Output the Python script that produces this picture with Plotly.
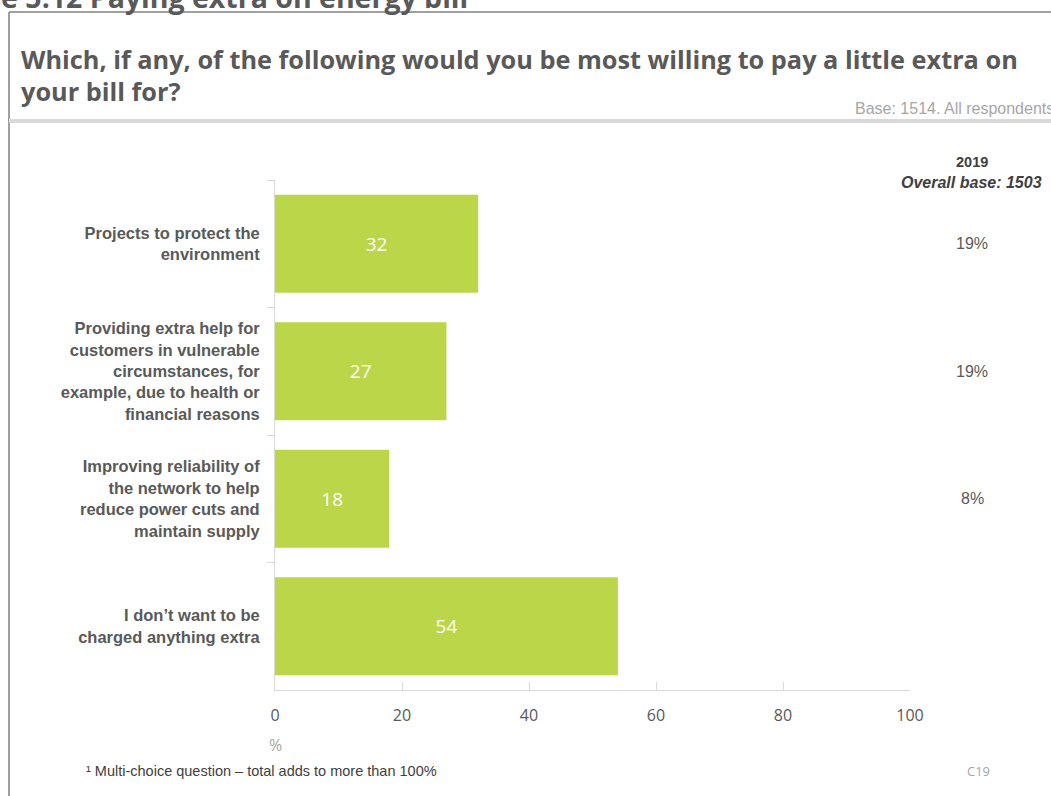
import plotly.graph_objects as go

# Survey answers, shown top to bottom
categories = [
    "Projects to protect the<br>environment",
    "Providing extra help for<br>customers in vulnerable<br>circumstances, for<br>example, due to health or<br>financial reasons",
    "Improving reliability of<br>the network to help<br>reduce power cuts and<br>maintain supply",
    "I don’t want to be<br>charged anything extra",
]
values_2020 = [32, 27, 18, 54]
values_2019 = ["19%", "19%", "8%", ""]
x_ticks = [0, 20, 40, 60, 80, 100]

BAR = "#BCD64A"
DARK = "#404040"
MID = "#595959"
LIGHT = "#A6A6A6"
AXIS = "#D9D9D9"

W, H = 1051, 796
L, R, T, B = 275, 141, 180, 106
PW, PH = W - L - R, H - T - B

fig = go.Figure()
fig.add_trace(go.Bar(
    x=values_2020,
    y=categories,
    orientation="h",
    marker=dict(color=BAR, line=dict(width=0)),
    width=0.77,
    text=[str(v) for v in values_2020],
    textposition="inside",
    insidetextanchor="middle",
    textfont=dict(family="Open Sans", size=19, color="white"),
    hoverinfo="skip",
))

fig.update_layout(
    width=W, height=H,
    margin=dict(l=L, r=R, t=T, b=B, autoexpand=False),
    paper_bgcolor="white",
    plot_bgcolor="white",
    showlegend=False,
    xaxis=dict(
        range=[0, 100],
        tickvals=x_ticks,
        ticks="inside", ticklen=8, tickcolor=AXIS, tickwidth=1,
        showline=True, linecolor=AXIS, linewidth=1,
        showgrid=False, zeroline=False,
        tickfont=dict(family="Open Sans", size=16, color=MID),
        ticklabelstandoff=11,
    ),
    yaxis=dict(
        autorange="reversed",
        type="category",
        tickson="boundaries",
        ticks="outside", ticklen=7, tickcolor=AXIS, tickwidth=1,
        showline=True, linecolor=AXIS, linewidth=1,
        showgrid=False, zeroline=False,
        tickfont=dict(family="Liberation Sans", size=16.5, color=MID, weight="bold"),
        ticklabelstandoff=11,
    ),
)

# page pixels -> paper coordinates (paper spans the plot area)
px_x = lambda v: (v - L) / PW
px_y = lambda v: (H - B - v) / PH

shapes = [
    # outer frame: top edge and left edge
    dict(type="line", xref="paper", yref="paper", x0=px_x(9), x1=px_x(W), y0=px_y(12), y1=px_y(12),
         line=dict(color="#A0A0A0", width=2)),
    dict(type="line", xref="paper", yref="paper", x0=px_x(9), x1=px_x(9), y0=px_y(12), y1=px_y(H),
         line=dict(color="#A0A0A0", width=2)),
    # divider under the question
    dict(type="line", xref="paper", yref="paper", x0=px_x(9), x1=px_x(W), y0=px_y(121), y1=px_y(121),
         line=dict(color="#D9D9D9", width=4)),
]
fig.update_layout(shapes=shapes)

ann = []

def text(x, y, s, size, color, family="Liberation Sans", xanchor="left", bold=False, italic=False):
    ann.append(dict(
        xref="paper", yref="paper", x=px_x(x), y=px_y(y), text=s, showarrow=False,
        xanchor=xanchor, yanchor="middle", align=xanchor if xanchor != "center" else "center",
        font=dict(family=family, size=size, color=color,
                  weight="bold" if bold else "normal", style="italic" if italic else "normal"),
    ))

text(470, -3, "Figure 5.12 Paying extra on energy bill", 28.5, MID, family="Open Sans", xanchor="right", bold=True)
text(19, 59, "Which, if any, of the following would you be most willing to pay a little extra on", 25.3, MID,
     family="Open Sans", bold=True)
text(19, 91, "your bill for?", 25.3, MID, family="Open Sans", bold=True)
text(853, 108, "Base: 1514. All respondents", 16, LIGHT)

text(972, 162, "2019", 14.5, DARK, xanchor="center", bold=True)
text(1044, 182, "Overall base: 1503", 16, DARK, xanchor="right", bold=True, italic=True)

# 2019 comparison column, aligned to each bar
for cat, v in zip(categories, values_2019):
    if v:
        ann.append(dict(
            xref="paper", yref="y", x=px_x(972), y=cat, text=v, showarrow=False,
            xanchor="center", yanchor="middle",
            font=dict(family="Liberation Sans", size=16, color=MID),
        ))

text(275, 745, "%", 16, LIGHT, family="Open Sans", xanchor="center")
text(84, 771, "¹ Multi-choice question – total adds to more than 100%", 14.5, DARK)
text(965, 771, "C19", 13, LIGHT, family="Open Sans")

fig.update_layout(annotations=ann)
fig.write_html("out.html")
